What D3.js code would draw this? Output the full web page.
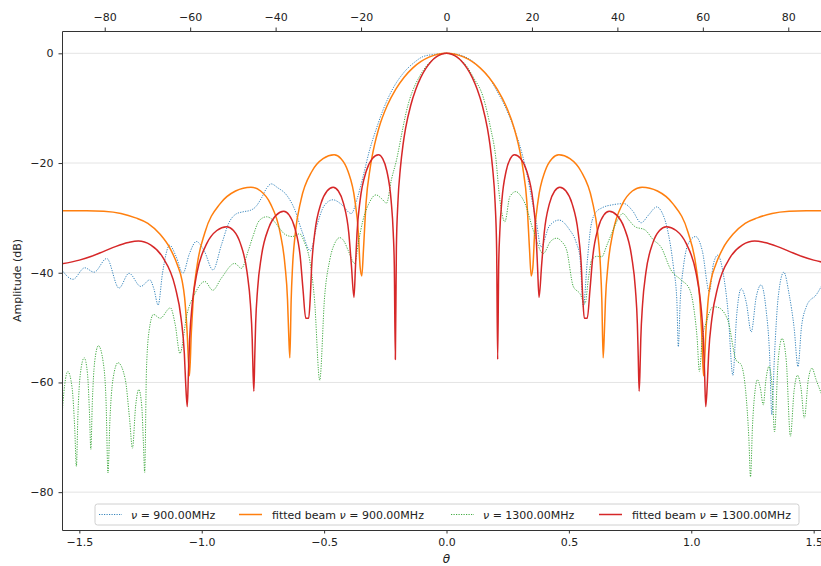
<!DOCTYPE html>
<html>
<head>
<meta charset="utf-8">
<script src="https://cdn.jsdelivr.net/npm/d3@7"></script>
<style>
  body { margin: 0; background: #fff; }
  svg { display: block; font-family: "DejaVu Sans", sans-serif; }
</style>
</head>
<body>
<svg id="chart" width="821" height="566"></svg>
<script>
// Beam patterns: [theta (rad), amplitude (dB)]
const measured900 = [
  [-1.573,-39.4],[-1.526,-41.2],[-1.478,-39.1],[-1.44,-39.9],[-1.388,-37.4],[-1.338,-42.8],[-1.297,-40.1],
  [-1.249,-42.5],[-1.212,-41.3],[-1.195,-43.0],[-1.178,-45.9],[-1.16,-40.0],[-1.131,-35.0],[-1.105,-37.0],
  [-1.077,-40.1],[-1.05,-36.5],[-1.022,-34.3],[-0.99,-36.0],[-0.954,-39.5],[-0.92,-35.0],[-0.89,-31.0],
  [-0.86,-29.3],[-0.832,-28.9],[-0.80,-28.6],[-0.78,-28.0],[-0.755,-26.3],[-0.735,-24.6],[-0.716,-23.8],
  [-0.69,-24.5],[-0.654,-25.8],[-0.62,-28.5],[-0.59,-32.5],[-0.556,-36.0],[-0.53,-31.5],[-0.50,-27.8],
  [-0.464,-26.7],[-0.43,-27.5],[-0.389,-29.2],[-0.365,-26.5],[-0.341,-22.5],[-0.314,-17.6],[-0.29,-14.2],
  [-0.259,-10.3],[-0.22,-6.5],[-0.177,-3.65],[-0.13,-1.6],[-0.096,-0.6],[-0.05,-0.2],[0,0],
  [0.05,-0.25],[0.095,-1.1],[0.14,-2.8],[0.177,-4.6],[0.205,-6.8],[0.232,-9.0],[0.27,-13.0],[0.307,-18.0],
  [0.33,-22.3],[0.348,-26.5],[0.368,-31.0],[0.386,-35.3],[0.42,-31.5],[0.46,-30.4],[0.50,-32.0],[0.53,-34.5],
  [0.545,-37.1],[0.559,-46.2],[0.575,-38.0],[0.59,-31.5],[0.61,-29.0],[0.634,-28.2],[0.68,-27.6],[0.725,-27.4],
  [0.76,-28.7],[0.795,-30.9],[0.825,-29.5],[0.859,-28.0],[0.88,-29.0],[0.90,-31.6],[0.927,-38.9],[0.941,-45.0],
  [0.947,-53.5],[0.955,-45.0],[0.968,-38.9],[0.99,-34.5],[1.018,-33.4],[1.045,-36.0],[1.074,-43.5],[1.09,-38.5],
  [1.108,-36.8],[1.13,-40.0],[1.15,-47.0],[1.17,-58.7],[1.185,-48.0],[1.204,-42.9],[1.225,-45.5],[1.245,-50.8],
  [1.265,-44.5],[1.285,-42.2],[1.305,-46.5],[1.32,-55.0],[1.329,-65.9],[1.34,-55.0],[1.355,-44.5],[1.378,-39.9],
  [1.40,-44.0],[1.42,-50.0],[1.436,-57.1],[1.45,-50.0],[1.47,-46.2],[1.49,-44.8],[1.503,-44.4],[1.531,-42.5]
];

const fitted900 = [
  [-1.573,-28.7],[-1.47,-28.7],[-1.40,-28.8],[-1.33,-29.2],[-1.27,-30.0],[-1.22,-31.0],[-1.17,-33.0],
  [-1.13,-35.5],[-1.10,-38.5],[-1.08,-41.5],[-1.07,-44.5],[-1.06,-50.5],[-1.050,-58.8],[-1.0425,-51.0],
  [-1.0349,-44.9],[-1.0186,-38.6],[-0.9873,-32.7],[-0.9245,-27.4],[-0.8618,-25.1],[-0.799,-24.4],
  [-0.7593,-25.1],[-0.7195,-27.4],[-0.6798,-32.7],[-0.6599,-38.6],[-0.6495,-44.9],[-0.6448,-51.0],
  [-0.640,-55.5],[-0.6346,-45.0],[-0.6291,-39.0],[-0.6174,-32.7],[-0.5948,-26.8],[-0.5495,-21.5],
  [-0.5043,-19.2],[-0.459,-18.5],[-0.4308,-19.2],[-0.4025,-21.5],[-0.3743,-26.8],[-0.3601,-32.7],
  [-0.3528,-39.0],[-0.346,-40.6],[-0.339,-35.6],[-0.3287,-27.3],[-0.3114,-20.8],[-0.2941,-16.7],
  [-0.2768,-13.7],[-0.2422,-9.52],[-0.2076,-6.57],[-0.173,-4.35],[-0.1384,-2.69],[-0.1038,-1.48],
  [-0.0692,-0.65],[-0.0346,-0.16],[0,0],
  [0.0346,-0.16],[0.0692,-0.65],[0.1038,-1.48],[0.1384,-2.69],[0.173,-4.35],[0.2076,-6.57],[0.2422,-9.52],
  [0.2768,-13.7],[0.2941,-16.7],[0.3114,-20.8],[0.3287,-27.3],[0.339,-35.6],[0.346,-40.6],[0.3528,-39.0],
  [0.3601,-32.7],[0.3743,-26.8],[0.4025,-21.5],[0.4308,-19.2],[0.459,-18.5],[0.5043,-19.2],[0.5495,-21.5],
  [0.5948,-26.8],[0.6174,-32.7],[0.6291,-39.0],[0.6346,-45.0],[0.640,-55.5],[0.6448,-51.0],[0.6495,-44.9],
  [0.6599,-38.6],[0.6798,-32.7],[0.7195,-27.4],[0.7593,-25.1],[0.799,-24.4],[0.8618,-25.1],[0.9245,-27.4],
  [0.9873,-32.7],[1.0186,-38.6],[1.0349,-44.9],[1.0425,-51.0],[1.050,-58.8],[1.06,-50.5],[1.07,-44.5],
  [1.08,-41.5],[1.10,-38.5],[1.13,-35.5],[1.17,-33.0],[1.22,-31.0],[1.27,-30.0],[1.33,-29.2],[1.40,-28.8],
  [1.47,-28.7],[1.573,-28.7]
];

const measured1300 = [
  [-1.573,-67.5],[-1.56,-60.5],[-1.547,-58.0],[-1.5295,-61.0],[-1.519,-68.2],[-1.512,-75.3],[-1.5056,-65.7],
  [-1.496,-58.5],[-1.48,-55.5],[-1.4665,-58.5],[-1.4584,-65.7],[-1.453,-72.2],[-1.4468,-63.5],[-1.4375,-56.3],
  [-1.422,-53.3],[-1.4025,-56.3],[-1.3908,-63.5],[-1.383,-76.5],[-1.3748,-66.6],[-1.3625,-59.4],[-1.342,-56.4],
  [-1.3125,-59.4],[-1.2948,-66.6],[-1.283,-72.0],[-1.27,-64.3],[-1.257,-61.3],[-1.245,-64.3],[-1.2378,-71.5],
  [-1.233,-76.4],[-1.2258,-57.8],[-1.215,-50.6],[-1.197,-47.6],[-1.17,-48.3],[-1.128,-46.4],[-1.1085,-49.4],
  [-1.089,-54.7],[-1.06,-47.5],[-1.03,-44.0],[-0.987,-41.6],[-0.955,-43.2],[-0.92,-41.0],[-0.865,-38.3],
  [-0.838,-39.2],[-0.81,-36.0],[-0.791,-33.4],[-0.765,-30.5],[-0.735,-29.8],[-0.709,-30.4],[-0.682,-31.9],
  [-0.66,-33.0],[-0.63,-33.4],[-0.60,-32.9],[-0.58,-34.5],[-0.559,-37.7],[-0.539,-45.0],[-0.518,-59.6],
  [-0.498,-44.4],[-0.477,-37.7],[-0.455,-34.5],[-0.436,-33.6],[-0.418,-34.3],[-0.402,-35.9],[-0.375,-38.3],
  [-0.36,-34.5],[-0.341,-30.4],[-0.315,-27.2],[-0.288,-25.8],[-0.265,-26.5],[-0.245,-27.3],[-0.225,-23.0],
  [-0.2045,-19.5],[-0.18,-14.0],[-0.165,-10.8],[-0.15,-8.3],[-0.137,-6.7],[-0.11,-4.2],[-0.08,-2.2],
  [-0.04,-0.6],[0,0],[0.04,-0.6],[0.08,-2.2],[0.11,-4.4],[0.15,-8.0],[0.165,-10.5],[0.18,-13.6],[0.20,-18.5],
  [0.218,-26.7],[0.2384,-30.7],[0.259,-26.1],[0.284,-25.2],[0.30,-25.8],[0.32,-27.3],[0.354,-32.2],
  [0.395,-36.5],[0.425,-34.3],[0.45,-33.7],[0.47,-34.3],[0.491,-35.9],[0.518,-42.5],[0.545,-43.8],
  [0.566,-45.6],[0.58,-41.0],[0.593,-37.7],[0.615,-37.0],[0.634,-37.1],[0.655,-35.0],[0.675,-32.8],
  [0.70,-30.3],[0.72,-29.2],[0.745,-30.4],[0.77,-31.6],[0.811,-32.2],[0.845,-34.0],[0.876,-35.3],
  [0.917,-39.5],[0.958,-41.3],[0.992,-42.9],[1.012,-47.0],[1.024,-52.0],[1.033,-58.0],[1.045,-52.0],
  [1.06,-49.2],[1.09,-46.2],[1.108,-46.3],[1.149,-48.6],[1.183,-55.9],[1.204,-56.8],[1.222,-61.5],
  [1.235,-70.0],[1.242,-77.2],[1.25,-68.0],[1.262,-61.0],[1.27,-59.5],[1.282,-61.0],[1.294,-64.1],
  [1.305,-59.5],[1.317,-57.1],[1.33,-60.5],[1.34,-69.0],[1.355,-56.0],[1.371,-52.0],[1.388,-56.0],
  [1.405,-69.8],[1.42,-61.5],[1.434,-58.7],[1.448,-61.0],[1.462,-66.5],[1.478,-59.5],[1.493,-57.4],
  [1.51,-59.5],[1.531,-62.0]
];

const fitted1300 = [
  [-1.573,-38.4],[-1.50,-37.7],[-1.45,-37.0],[-1.40,-36.1],[-1.35,-35.2],[-1.30,-34.5],[-1.259,-34.2],
  [-1.209,-34.9],[-1.159,-37.2],[-1.109,-42.5],[-1.084,-48.4],[-1.071,-54.7],[-1.065,-60.7],[-1.059,-64.4],
  [-1.0542,-58.1],[-1.0493,-52.1],[-1.0389,-45.8],[-1.0188,-39.9],[-0.9785,-34.6],[-0.9383,-32.3],
  [-0.898,-31.6],[-0.8703,-32.3],[-0.8425,-34.6],[-0.8148,-39.9],[-0.8009,-45.8],[-0.7937,-52.1],
  [-0.7903,-58.1],[-0.787,-61.6],[-0.7833,-55.3],[-0.7797,-49.3],[-0.7718,-43.0],[-0.7565,-37.1],
  [-0.726,-31.8],[-0.6955,-29.5],[-0.665,-28.8],[-0.6425,-29.5],[-0.62,-31.8],[-0.5975,-37.1],
  [-0.5863,-43.0],[-0.575,-48.3],[-0.563,-48.3],[-0.557,-44.9],[-0.5505,-38.6],[-0.538,-32.7],
  [-0.513,-27.4],[-0.488,-25.1],[-0.463,-24.4],[-0.4418,-25.1],[-0.4205,-27.4],[-0.3993,-32.7],
  [-0.3886,-38.6],[-0.378,-44.5],[-0.372,-39.0],[-0.3655,-32.7],[-0.353,-26.8],[-0.328,-21.5],
  [-0.303,-19.2],[-0.278,-18.5],[-0.2608,-19.2],[-0.2435,-21.5],[-0.2263,-26.8],[-0.2176,-32.7],
  [-0.2131,-39.0],[-0.209,-55.8],[-0.2048,-35.6],[-0.1986,-27.3],[-0.1881,-20.8],[-0.1777,-16.7],
  [-0.1672,-13.7],[-0.1463,-9.52],[-0.1254,-6.57],[-0.1045,-4.35],[-0.0836,-2.69],[-0.0627,-1.48],
  [-0.0418,-0.65],[-0.0209,-0.16],[0,0],
  [0.0209,-0.16],[0.0418,-0.65],[0.0627,-1.48],[0.0836,-2.69],[0.1045,-4.35],[0.1254,-6.57],[0.1463,-9.52],
  [0.1672,-13.7],[0.1777,-16.7],[0.1881,-20.8],[0.1986,-27.3],[0.2048,-35.6],[0.209,-55.8],[0.2131,-39.0],
  [0.2176,-32.7],[0.2263,-26.8],[0.2435,-21.5],[0.2608,-19.2],[0.278,-18.5],[0.303,-19.2],[0.328,-21.5],
  [0.353,-26.8],[0.3655,-32.7],[0.372,-39.0],[0.378,-44.5],[0.3886,-38.6],[0.3993,-32.7],[0.4205,-27.4],
  [0.4418,-25.1],[0.463,-24.4],[0.488,-25.1],[0.513,-27.4],[0.538,-32.7],[0.5505,-38.6],[0.557,-44.9],
  [0.563,-48.3],[0.575,-48.3],[0.5863,-43.0],[0.5975,-37.1],[0.62,-31.8],[0.6425,-29.5],[0.665,-28.8],
  [0.6955,-29.5],[0.726,-31.8],[0.7565,-37.1],[0.7718,-43.0],[0.7797,-49.3],[0.7833,-55.3],[0.787,-61.6],
  [0.7903,-58.1],[0.7937,-52.1],[0.8009,-45.8],[0.8148,-39.9],[0.8425,-34.6],[0.8703,-32.3],[0.898,-31.6],
  [0.9383,-32.3],[0.9785,-34.6],[1.0188,-39.9],[1.0389,-45.8],[1.0493,-52.1],[1.0542,-58.1],[1.059,-64.4],
  [1.065,-60.7],[1.071,-54.7],[1.084,-48.4],[1.109,-42.5],[1.159,-37.2],[1.209,-34.9],[1.259,-34.2],
  [1.30,-34.5],[1.35,-35.2],[1.40,-36.1],[1.45,-37.0],[1.50,-37.7],[1.573,-38.4]
];

const legendLabels = [
  ["", "900.00MHz"],
  ["fitted beam ", "900.00MHz"],
  ["", "1300.00MHz"],
  ["fitted beam ", "1300.00MHz"]
];
const radTicks = [-1.5, -1.0, -0.5, 0.0, 0.5, 1.0, 1.5];
const degTicks = [-80, -60, -40, -20, 0, 20, 40, 60, 80];
const dbTicks = [0, -20, -40, -60, -80];

const colors = ["#1f77b4", "#ff7f0e", "#2ca02c", "#d62728"];
const series = [
  { data: measured900, color: colors[0], dotted: true },
  { data: fitted900, color: colors[1], dotted: false },
  { data: measured1300, color: colors[2], dotted: true },
  { data: fitted1300, color: colors[3], dotted: false }
];

const svg = d3.select("#chart");
const L = 62, T = 31, R = 831, B = 530;

const x = d3.scaleLinear().domain([-Math.PI / 2, Math.PI / 2]).range([L, R]);
const xDeg = d3.scaleLinear().domain([-90, 90]).range([L, R]);
const y = d3.scaleLinear().domain([-86.9, 4.07]).range([B, T]);

svg.append("defs").append("clipPath").attr("id", "plotclip")
  .append("rect").attr("x", L).attr("y", T).attr("width", R - L).attr("height", B - T);

// horizontal grid
svg.append("g").selectAll("line").data(dbTicks).join("line")
  .attr("x1", L).attr("x2", R)
  .attr("y1", d => y(d)).attr("y2", d => y(d))
  .attr("stroke", "#e4e4e4").attr("stroke-width", 1);

// beam curves
const line = d3.line().x(d => x(d[0])).y(d => y(d[1])).curve(d3.curveMonotoneX);
const plot = svg.append("g").attr("clip-path", "url(#plotclip)");
series.forEach(s => {
  plot.append("path").datum(s.data)
    .attr("d", line)
    .attr("fill", "none")
    .attr("stroke", s.color)
    .attr("stroke-width", s.dotted ? 0.9 : 1.5)
    .attr("stroke-dasharray", s.dotted ? "1.2,1.3" : null)
    .attr("stroke-linejoin", "round");
});

// axes
const tickStyle = g => {
  g.selectAll(".domain").attr("stroke", "#333").attr("stroke-width", 1);
  g.selectAll(".tick line").attr("stroke", "#333").attr("stroke-width", 1);
  g.selectAll(".tick text").attr("fill", "#222").style("font-size", "11px")
    .style("font-family", '"DejaVu Sans", sans-serif');
};

svg.append("g").attr("transform", `translate(0,${B})`)
  .call(d3.axisBottom(x).tickValues(radTicks).tickFormat(d3.format(".1f"))
    .tickSize(3.5).tickSizeOuter(0).tickPadding(5))
  .call(tickStyle);

svg.append("g").attr("transform", `translate(0,${T})`)
  .call(d3.axisTop(xDeg).tickValues(degTicks).tickFormat(d3.format("d"))
    .tickSize(3.5).tickSizeOuter(0).tickPadding(6.5))
  .call(tickStyle);

svg.append("g").attr("transform", `translate(${L},0)`)
  .call(d3.axisLeft(y).tickValues(dbTicks).tickFormat(d3.format("d"))
    .tickSize(3.5).tickSizeOuter(0).tickPadding(5))
  .call(tickStyle);

// axis labels
svg.append("text")
  .attr("transform", `translate(21,${(T + B) / 2}) rotate(-90)`)
  .attr("text-anchor", "middle").attr("fill", "#222").style("font-size", "11px")
  .text("Amplitude (dB)");

svg.append("text")
  .attr("x", x(0)).attr("y", 563)
  .attr("text-anchor", "middle").attr("fill", "#222").style("font-size", "12px")
  .style("font-style", "italic")
  .text("θ");

// legend
const lg = svg.append("g");
lg.append("rect").attr("x", 95).attr("y", 504).attr("width", 704).attr("height", 21)
  .attr("rx", 2.5).attr("fill", "#fff").attr("fill-opacity", 0.8)
  .attr("stroke", "#d0d0d0").attr("stroke-width", 1);

const handleX = [99, 239, 451, 599];
const textX = [131, 272, 483, 632];
const ly = 514.5;
series.forEach((s, i) => {
  lg.append("line").attr("x1", handleX[i]).attr("x2", handleX[i] + 23)
    .attr("y1", ly).attr("y2", ly)
    .attr("stroke", s.color)
    .attr("stroke-width", s.dotted ? 0.9 : 1.5)
    .attr("stroke-dasharray", s.dotted ? "1.2,1.3" : null);
  const t = lg.append("text").attr("x", textX[i]).attr("y", ly + 4)
    .attr("fill", "#222").style("font-size", "11px");
  if (legendLabels[i][0]) t.append("tspan").text(legendLabels[i][0]);
  t.append("tspan").style("font-style", "italic").text("ν");
  t.append("tspan").text(" = " + legendLabels[i][1]);
});
</script>
</body>
</html>
